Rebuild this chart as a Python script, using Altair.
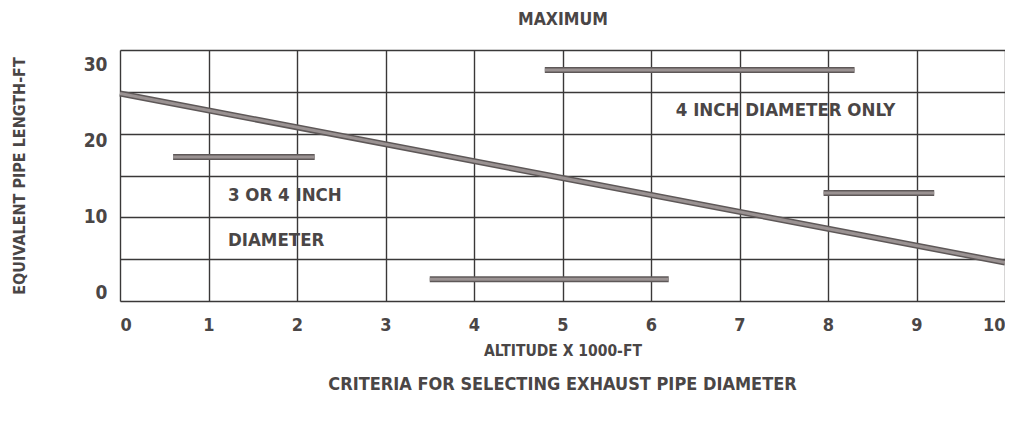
import altair as alt
import pandas as pd

FONT = "DejaVu Sans Condensed"
TXT = "#4a4646"
GRID = "#3a3838"

# horizontal bar segments (altitude x 1000 ft, pipe length ft)
bar_x_start = [0.6, 4.8, 7.95, 3.5]
bar_x_end = [2.2, 8.3, 9.2, 6.2]
bar_y = [17.2, 27.6, 12.9, 2.6]

# maximum line
line_x = [0, 10]
line_y = [24.8, 4.6]

# region labels
label_text = ["4 INCH DIAMETER ONLY", "3 OR 4 INCH", "DIAMETER"]
label_x = [6.28, 1.22, 1.22]
label_y = [22.8, 12.7, 7.3]

x_ticks = list(range(0, 11))
y_grid = [0, 5, 10, 15, 20, 25, 30]
y_labels = [0, 10, 20, 30]

bars = pd.DataFrame({"x": bar_x_start, "x2": bar_x_end, "y": bar_y})
line = pd.DataFrame({"x": line_x, "y": line_y})
labels = pd.DataFrame({"t": label_text, "x": label_x, "y": label_y})
ylab = pd.DataFrame({"v": y_labels})

xs = alt.Scale(domain=[0, 10], nice=False, zero=False)
ys = alt.Scale(domain=[0, 30], nice=False, zero=False)

xaxis = alt.Axis(values=x_ticks, format="d", grid=True, gridColor=GRID, gridWidth=1.4, gridOpacity=1,
                 ticks=False, domain=False, labelFont=FONT, labelFontSize=18,
                 labelFontWeight="bold", labelColor=TXT, labelPadding=15,
                 title="ALTITUDE X 1000-FT",
                 titleFont=FONT, titleFontSize=15.5, titleFontWeight="bold", titleColor=TXT,
                 titlePadding=9)
yaxis = alt.Axis(values=y_grid, grid=True, gridColor=GRID, gridWidth=1.4, gridOpacity=1,
                 ticks=False, domain=False, labels=False, title=None)

bar_outer = alt.Chart(bars).mark_rule(strokeWidth=6, color="#5e5858", strokeCap="butt").encode(
    x=alt.X("x:Q", scale=xs, axis=xaxis), x2="x2:Q", y=alt.Y("y:Q", scale=ys, axis=yaxis))
bar_inner = alt.Chart(bars).mark_rule(strokeWidth=3, color="#9a9292", strokeCap="butt").encode(
    x=alt.X("x:Q", scale=xs), x2="x2:Q", y=alt.Y("y:Q", scale=ys))

line_outer = alt.Chart(line).mark_line(strokeWidth=6, color="#5e5858").encode(
    x=alt.X("x:Q", scale=xs), y=alt.Y("y:Q", scale=ys))
line_inner = alt.Chart(line).mark_line(strokeWidth=3, color="#9a9292").encode(
    x=alt.X("x:Q", scale=xs), y=alt.Y("y:Q", scale=ys))

text = alt.Chart(labels).mark_text(align="left", baseline="middle", font=FONT, fontSize=18.5,
                                   fontWeight="bold", color=TXT).encode(
    x=alt.X("x:Q", scale=xs), y=alt.Y("y:Q", scale=ys), text="t:N")

main = alt.layer(bar_outer, bar_inner, line_outer, line_inner, text)

ylayer = alt.Chart(ylab).mark_point(opacity=0).encode(
    x=alt.X("v:Q", scale=alt.Scale(domain=[0, 30]),
            axis=alt.Axis(orient="top", labels=False, ticks=False, domain=False, grid=False,
                          title="MAXIMUM", titleFont=FONT, titleFontSize=17.5,
                          titleFontWeight="bold", titleColor=TXT, titlePadding=22)),
    y=alt.Y("v:Q", scale=alt.Scale(domain=[-1.05, 31.84], nice=False, zero=False),
            axis=alt.Axis(values=y_labels, orient="left", grid=False, ticks=False, domain=False,
                          labelFont=FONT, labelFontSize=19, labelFontWeight="bold",
                          labelColor=TXT, labelPadding=13,
                          title="EQUIVALENT PIPE LENGTH-FT", titleFont=FONT, titleFontSize=16,
                          titleFontWeight="bold", titleColor=TXT, titlePadding=56)))

chart = alt.layer(main, ylayer).resolve_scale(x="independent", y="independent").properties(
    width=885, height=251,
    autosize=alt.AutoSizeParams(type="none"),
    padding={"left": 112, "top": 42, "right": 0, "bottom": 114},
    title=alt.Title("CRITERIA FOR SELECTING EXHAUST PIPE DIAMETER", orient="bottom",
                    font=FONT, fontSize=18, fontWeight="bold", color=TXT,
                    anchor="middle", offset=17),
).configure_view(stroke=GRID, strokeWidth=1.6).configure(background="white")

chart.save("out.html", embed_options={"renderer": "svg", "actions": False})
